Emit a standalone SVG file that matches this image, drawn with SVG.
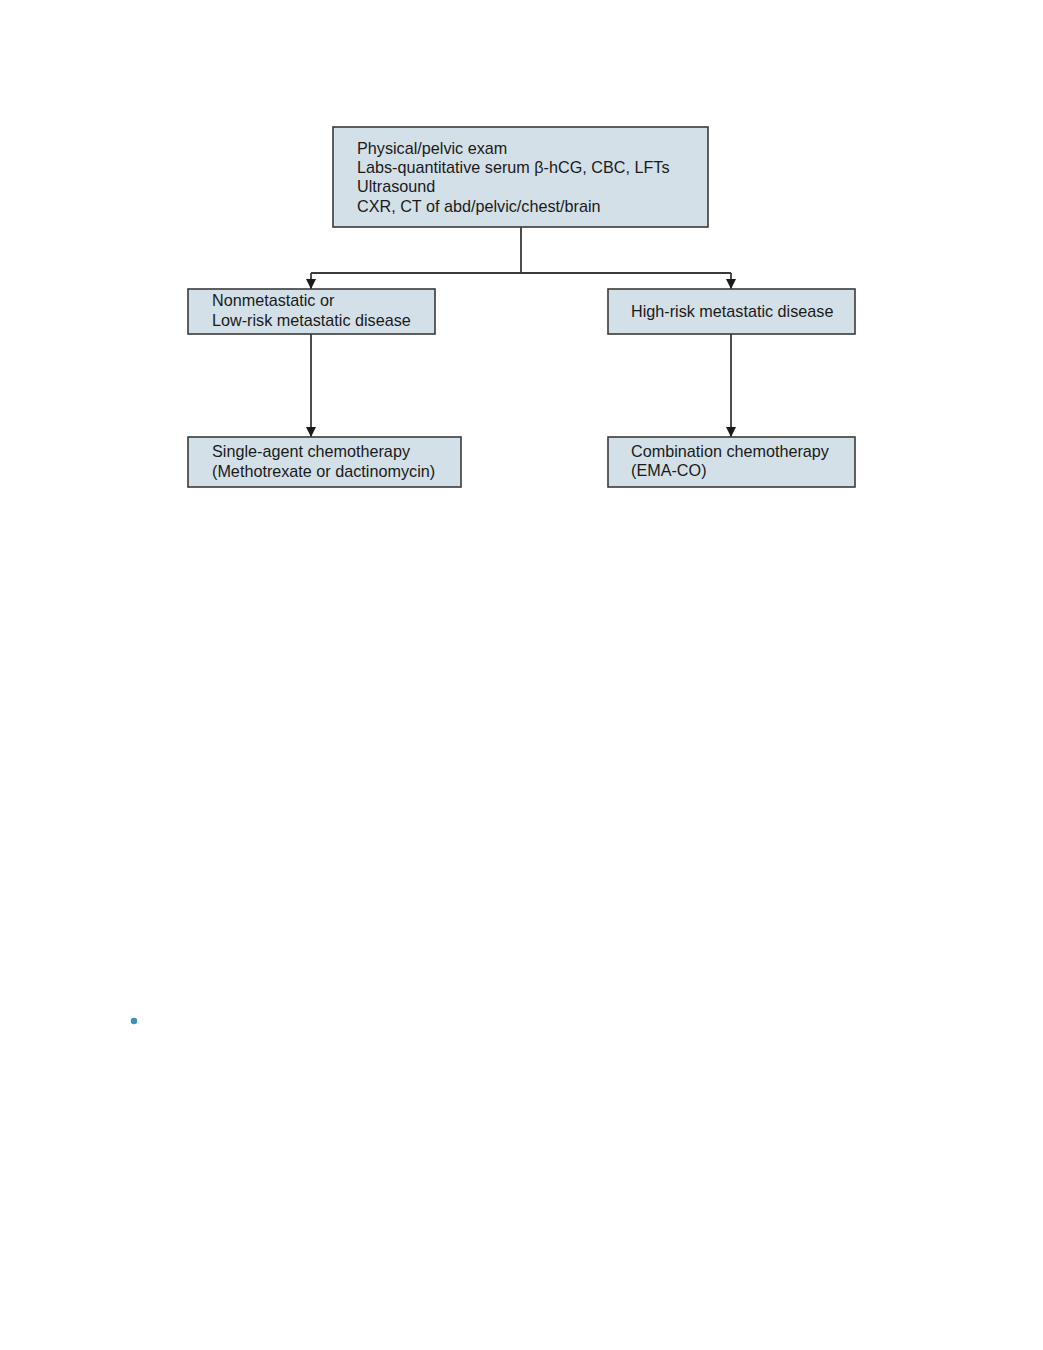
<svg xmlns="http://www.w3.org/2000/svg" width="1043" height="1350" viewBox="0 0 1043 1350">
<defs>
<style>
.box{fill:#d4e0e8;stroke:#3a3a3a;stroke-width:1.6}
.t{font-family:"Liberation Sans",Arial,sans-serif;font-size:16.2px;fill:#1a1a1a}
.c{fill:none;stroke:#3a3a3a;stroke-width:1.8}
</style>
<marker id="ah" viewBox="0 0 10 10" refX="10" refY="5" markerWidth="10" markerHeight="10" markerUnits="userSpaceOnUse" orient="auto">
<path d="M0,0 L10,5 L0,10 z" fill="#1a1a1a"/>
</marker>
</defs>
<rect width="1043" height="1350" fill="#ffffff"/>
<g id="connectors">
<path class="c" d="M521,227 V273"/>
<path class="c" d="M311,273 H731"/>
<path class="c" d="M311,273 V289" marker-end="url(#ah)"/>
<path class="c" d="M731,273 V289" marker-end="url(#ah)"/>
<path class="c" d="M311,334 V437" marker-end="url(#ah)"/>
<path class="c" d="M731,334 V437" marker-end="url(#ah)"/>
</g>
<g id="node-workup">
<rect class="box" x="333" y="127" width="375" height="100"/>
<text class="t" x="357" y="154">Physical/pelvic exam</text>
<text class="t" x="357" y="173">Labs-quantitative serum β-hCG, CBC, LFTs</text>
<text class="t" x="357" y="192">Ultrasound</text>
<text class="t" x="357" y="212">CXR, CT of abd/pelvic/chest/brain</text>
</g>
<g id="node-lowrisk">
<rect class="box" x="188" y="289" width="247" height="45"/>
<text class="t" x="212" y="306">Nonmetastatic or</text>
<text class="t" x="212" y="326">Low-risk metastatic disease</text>
</g>
<g id="node-highrisk">
<rect class="box" x="608" y="289" width="247" height="45"/>
<text class="t" x="631" y="317">High-risk metastatic disease</text>
</g>
<g id="node-single">
<rect class="box" x="188" y="437" width="273" height="50"/>
<text class="t" x="212" y="457">Single-agent chemotherapy</text>
<text class="t" x="212" y="477">(Methotrexate or dactinomycin)</text>
</g>
<g id="node-combo">
<rect class="box" x="608" y="437" width="247" height="50"/>
<text class="t" x="631" y="457">Combination chemotherapy</text>
<text class="t" x="631" y="476">(EMA-CO)</text>
</g>
<circle cx="134" cy="1021" r="3.2" fill="#3a90b5"/>
</svg>
